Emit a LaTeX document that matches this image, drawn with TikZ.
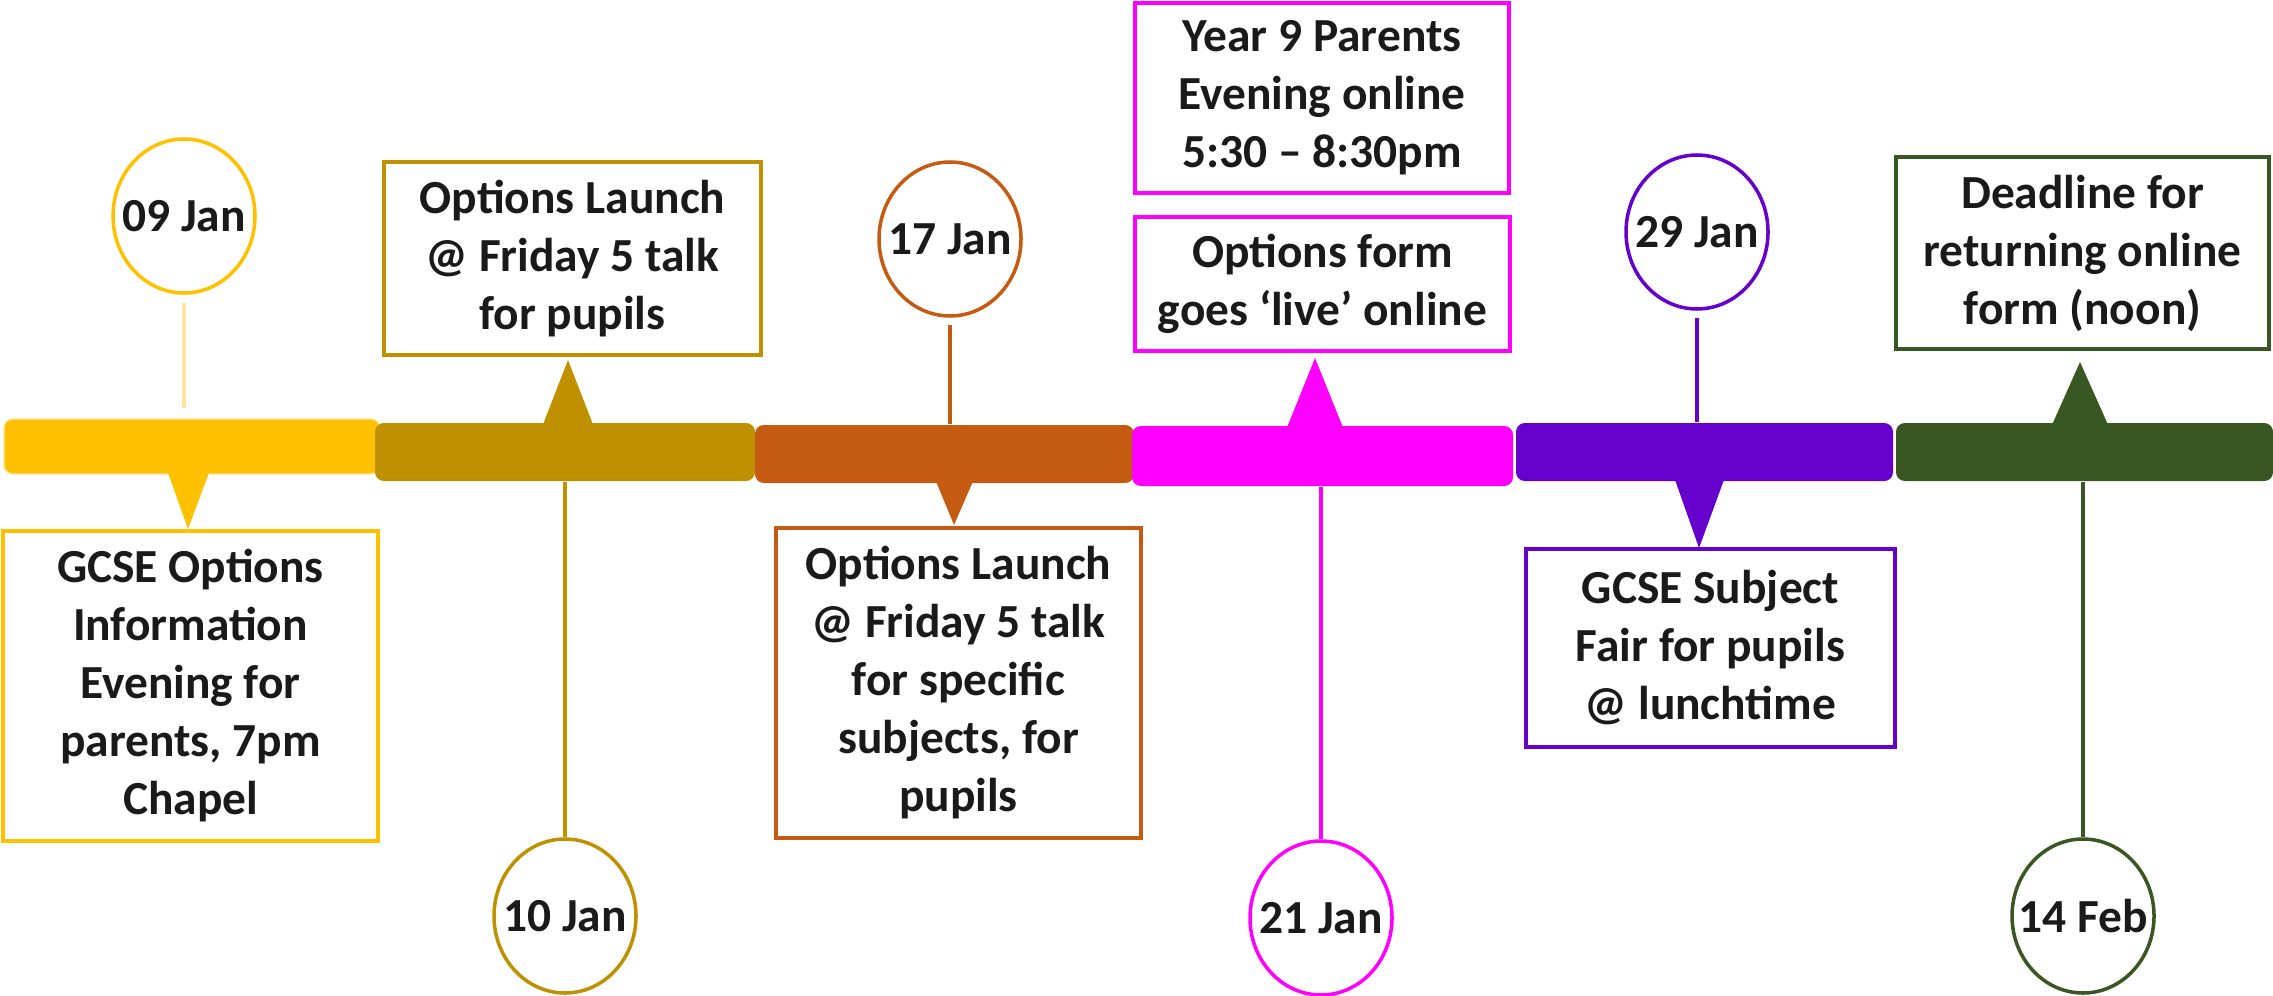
\documentclass[tikz,border=0pt]{standalone}
\usepackage{fontspec}
\setmainfont{Carlito}
\usetikzlibrary{shapes.geometric}

\definecolor{optyellow}{HTML}{FFC000}
\definecolor{optpale}{HTML}{FFE699}
\definecolor{optgold}{HTML}{BF9000}
\definecolor{optorange}{HTML}{C55A11}
\definecolor{optmagenta}{HTML}{FF00FF}
\definecolor{optpurple}{HTML}{6600CC}
\definecolor{optgreen}{HTML}{385723}
\definecolor{opttext}{HTML}{1A1A1A}

\tikzset{
    bar/.style={rectangle, rounded corners=2.5pt, inner sep=0pt, minimum height=0.58cm},
    eventbox/.style={rectangle, draw, line width=0.9pt, fill=white, align=center, inner sep=0pt},
    datebubble/.style={ellipse, draw, line width=1pt, fill=white, inner xsep=-0.2cm, inner ysep=0pt,
        minimum width=1.42cm, minimum height=1.54cm},
    stem/.style={line width=0.9pt}
}

\begin{document}
\begin{tikzpicture}[font=\fontsize{13.5}{16.5}\selectfont\bfseries, text=opttext]
    \useasboundingbox (0,0) rectangle (22.73,9.95);

    \node[bar, fill=optyellow, draw=optpale, line width=0.4pt, minimum width=3.76cm, minimum height=0.55cm] (b1) at (1.92,5.485) {};
    \node[bar, fill=optgold, minimum width=3.80cm] (b2) at (5.65,5.43) {};
    \node[bar, fill=optorange, minimum width=3.79cm] (b3) at (9.445,5.41) {};
    \node[bar, fill=optmagenta, minimum width=3.81cm, minimum height=0.60cm] (b4) at (13.225,5.39) {};
    \node[bar, fill=optpurple, minimum width=3.77cm] (b5) at (17.045,5.43) {};
    \node[bar, fill=optgreen, minimum width=3.77cm] (b6) at (20.845,5.43) {};

    \fill[optyellow] (1.67,5.25) -- (2.10,5.25) -- (1.88,4.66) -- cycle;
    \fill[optgold] (5.42,5.68) -- (5.94,5.68) -- (5.68,6.35) -- cycle;
    \fill[optorange] (9.35,5.16) -- (9.74,5.16) -- (9.54,4.70) -- cycle;
    \fill[optmagenta] (12.86,5.65) -- (13.44,5.65) -- (13.15,6.37) -- cycle;
    \fill[optpurple] (16.74,5.18) -- (17.25,5.18) -- (16.99,4.47) -- cycle;
    \fill[optgreen] (20.51,5.68) -- (21.09,5.68) -- (20.80,6.33) -- cycle;

    \node[eventbox, draw=optyellow, minimum width=3.75cm, minimum height=3.10cm] (g1) at (1.905,3.09)
        {GCSE Options\\Information\\Evening for\\parents, 7pm\\Chapel};
    \node[eventbox, draw=optgold, minimum width=3.77cm, minimum height=1.93cm] (l1) at (5.725,7.365)
        {Options Launch\\@ Friday 5 talk\\for pupils};
    \node[eventbox, draw=optorange, minimum width=3.65cm, minimum height=3.10cm] (l2) at (9.585,3.12)
        {Options Launch\\@ Friday 5 talk\\for specific\\subjects, for\\pupils};
    \node[eventbox, draw=optmagenta, minimum width=3.74cm, minimum height=1.90cm] (y9) at (13.22,8.97)
        {Year 9 Parents\\Evening online\\5:30 – 8:30pm};
    \node[eventbox, draw=optmagenta, minimum width=3.75cm, minimum height=1.34cm] (f1) at (13.225,7.11)
        {Options form\\goes ‘live’ online};
    \node[eventbox, draw=optpurple, minimum width=3.69cm, minimum height=1.98cm] (s1) at (17.105,3.47)
        {GCSE Subject\\Fair for pupils\\@ lunchtime};
    \node[eventbox, draw=optgreen, minimum width=3.73cm, minimum height=1.92cm] (d1) at (20.825,7.42)
        {Deadline for\\returning online\\form (noon)};

    \node[datebubble, draw=optyellow] (c09) at (1.84,7.79) {09 Jan};
    \node[datebubble, draw=optgold] (c10) at (5.65,0.79) {10 Jan};
    \node[datebubble, draw=optorange] (c17) at (9.50,7.56) {17 Jan};
    \node[datebubble, draw=optmagenta] (c21) at (13.21,0.77) {21 Jan};
    \node[datebubble, draw=optpurple] (c29) at (16.97,7.63) {29 Jan};
    \node[datebubble, draw=optgreen] (c14) at (20.83,0.79) {14 Feb};

    \draw[stem, optpale] ([yshift=-0.08cm]c09.south) -- ([yshift=0.1cm]c09.south |- b1.north);
    \draw[stem, optgold] (c10.north) -- (c10.north |- b2.south);
    \draw[stem, optorange] ([yshift=-0.07cm]c17.south) -- (c17.south |- b3.north);
    \draw[stem, optmagenta] (c21.north) -- (c21.north |- b4.south);
    \draw[stem, optpurple] ([yshift=-0.07cm]c29.south) -- (c29.south |- b5.north);
    \draw[stem, optgreen] (c14.north) -- (c14.north |- b6.south);
\end{tikzpicture}
\end{document}
